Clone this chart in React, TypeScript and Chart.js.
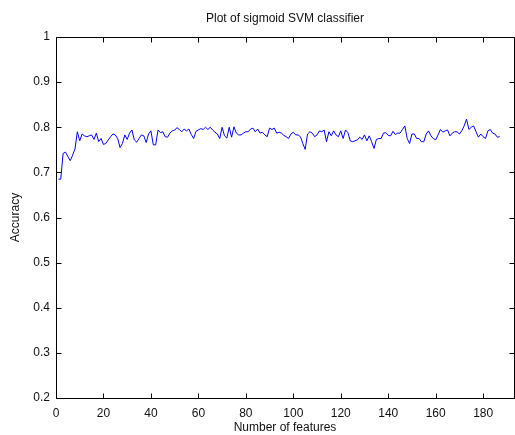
import React, { useEffect, useRef } from "react";
import { Chart, registerables } from "chart.js";

Chart.register(...registerables);

// Classification accuracy for feature counts 1..187
const accuracy: number[] = [
  0.685, 0.685, 0.742, 0.745, 0.735, 0.726, 0.738, 0.752, 0.79, 0.77,
  0.785, 0.781, 0.779, 0.781, 0.783, 0.773, 0.787, 0.768, 0.775, 0.762,
  0.764, 0.772, 0.779, 0.785, 0.783, 0.775, 0.755, 0.764, 0.783, 0.773,
  0.787, 0.794, 0.772, 0.767, 0.775, 0.783, 0.781, 0.766, 0.785, 0.792,
  0.761, 0.761, 0.794, 0.788, 0.79, 0.779, 0.778, 0.787, 0.792, 0.794,
  0.799, 0.795, 0.79, 0.796, 0.792, 0.796, 0.784, 0.775, 0.791, 0.794,
  0.797, 0.795, 0.8, 0.795, 0.8, 0.794, 0.789, 0.785, 0.775, 0.8,
  0.781, 0.776, 0.8, 0.778, 0.801, 0.787, 0.783, 0.783, 0.787, 0.79,
  0.79, 0.796, 0.798, 0.79, 0.796, 0.787, 0.789, 0.783, 0.779, 0.798,
  0.795, 0.798, 0.787, 0.789, 0.787, 0.782, 0.779, 0.775, 0.785, 0.789,
  0.783, 0.783, 0.779, 0.764, 0.751, 0.785, 0.79, 0.787, 0.779, 0.783,
  0.792, 0.79, 0.794, 0.768, 0.79, 0.781, 0.792, 0.783, 0.779, 0.792,
  0.775, 0.794, 0.788, 0.77, 0.768, 0.77, 0.772, 0.778, 0.773, 0.783,
  0.77, 0.781, 0.768, 0.753, 0.773, 0.775, 0.775, 0.787, 0.788, 0.782,
  0.781, 0.791, 0.784, 0.787, 0.787, 0.795, 0.803, 0.775, 0.764, 0.785,
  0.785, 0.775, 0.775, 0.768, 0.768, 0.785, 0.792, 0.781, 0.775, 0.772,
  0.783, 0.795, 0.789, 0.792, 0.794, 0.781, 0.787, 0.79, 0.79, 0.785,
  0.792, 0.803, 0.818, 0.795, 0.8, 0.803, 0.79, 0.778, 0.785, 0.779,
  0.775, 0.792, 0.795, 0.787, 0.785, 0.778, 0.779,
];

const xTickValues = [0, 20, 40, 60, 80, 100, 120, 140, 160, 180];
const yTickValues = [0.2, 0.3, 0.4, 0.5, 0.6, 0.7, 0.8, 0.9, 1];
const yTickLabels = ["0.2", "0.3", "0.4", "0.5", "0.6", "0.7", "0.8", "0.9", "1"];

const xMin = 0;
const xMax = 193;
const yMin = 0.2;
const yMax = 1;

const chartTitle = "Plot of sigmoid SVM classifier";
const xTitle = "Number of features";
const yTitle = "Accuracy";

const FONT = '"Liberation Sans", Arial, sans-serif';
const TEXT = "#111";

// Frame with inward ticks on every side, plus title and axis titles
const framePlugin = {
  id: "frame",
  afterDraw(chart: any) {
    const { ctx, chartArea } = chart;
    const { left, right, top, bottom } = chartArea;
    const xs = chart.scales.x;
    const ys = chart.scales.y;
    const tick = 5;
    ctx.save();
    ctx.strokeStyle = "#000";
    ctx.lineWidth = 1;
    ctx.beginPath();
    ctx.rect(Math.round(left) + 0.5, Math.round(top) + 0.5, Math.round(right - left), Math.round(bottom - top));
    xTickValues.forEach((v) => {
      const px = Math.round(xs.getPixelForValue(v)) + 0.5;
      ctx.moveTo(px, Math.round(bottom) + 0.5);
      ctx.lineTo(px, Math.round(bottom) + 0.5 - tick);
      ctx.moveTo(px, Math.round(top) + 0.5);
      ctx.lineTo(px, Math.round(top) + 0.5 + tick);
    });
    yTickValues.forEach((v) => {
      const py = Math.round(ys.getPixelForValue(v)) + 0.5;
      ctx.moveTo(Math.round(left) + 0.5, py);
      ctx.lineTo(Math.round(left) + 0.5 + tick, py);
      ctx.moveTo(Math.round(right) + 0.5, py);
      ctx.lineTo(Math.round(right) + 0.5 - tick, py);
    });
    ctx.stroke();

    ctx.fillStyle = TEXT;
    ctx.font = `12px ${FONT}`;
    ctx.textAlign = "center";
    ctx.textBaseline = "middle";
    ctx.fillText(chartTitle, (left + right) / 2, 19);
    ctx.fillText(xTitle, (left + right) / 2, 428);
    ctx.translate(16, (top + bottom) / 2);
    ctx.rotate(-Math.PI / 2);
    ctx.fillText(yTitle, 0, 0);
    ctx.restore();
  },
};

export default function App() {
  const canvasRef = useRef<HTMLCanvasElement | null>(null);

  useEffect(() => {
    const canvas = canvasRef.current;
    if (!canvas) return;
    const chart = new Chart(canvas, {
      type: "line",
      data: {
        datasets: [
          {
            data: accuracy.map((v, i) => ({ x: i + 1, y: v })),
            borderColor: "#0000ff",
            borderWidth: 1,
            pointRadius: 0,
            tension: 0,
            fill: false,
          },
        ],
      },
      options: {
        responsive: false,
        animation: false,
        devicePixelRatio: 1,
        layout: { padding: { left: 0, right: 1, top: 37, bottom: 0 } },
        plugins: {
          legend: { display: false },
          title: { display: false },
          tooltip: { enabled: false },
        },
        scales: {
          x: {
            type: "linear",
            min: xMin,
            max: xMax,
            grid: { display: false, drawTicks: false },
            border: { display: false },
            afterBuildTicks: (scale: any) => {
              scale.ticks = xTickValues.map((v) => ({ value: v }));
            },
            afterFit: (scale: any) => {
              scale.height = 37;
            },
            ticks: {
              padding: 8,
              maxRotation: 0,
              autoSkip: false,
              color: TEXT,
              font: { family: FONT, size: 12 },
              callback: (v: any) => String(v),
            },
          },
          y: {
            type: "linear",
            min: yMin,
            max: yMax,
            grid: { display: false, drawTicks: false },
            border: { display: false },
            afterBuildTicks: (scale: any) => {
              scale.ticks = yTickValues.map((v) => ({ value: v }));
            },
            afterFit: (scale: any) => {
              scale.width = 56;
            },
            ticks: {
              padding: 6,
              autoSkip: false,
              color: TEXT,
              font: { family: FONT, size: 12 },
              callback: (_v: any, i: number) => yTickLabels[i],
            },
          },
        },
      },
      plugins: [framePlugin],
    });
    return () => chart.destroy();
  }, []);

  return (
    <div style={{ position: "fixed", left: 0, top: 0, width: 515, height: 435, background: "#fff" }}>
      <canvas ref={canvasRef} width={515} height={435} style={{ display: "block" }} />
    </div>
  );
}
